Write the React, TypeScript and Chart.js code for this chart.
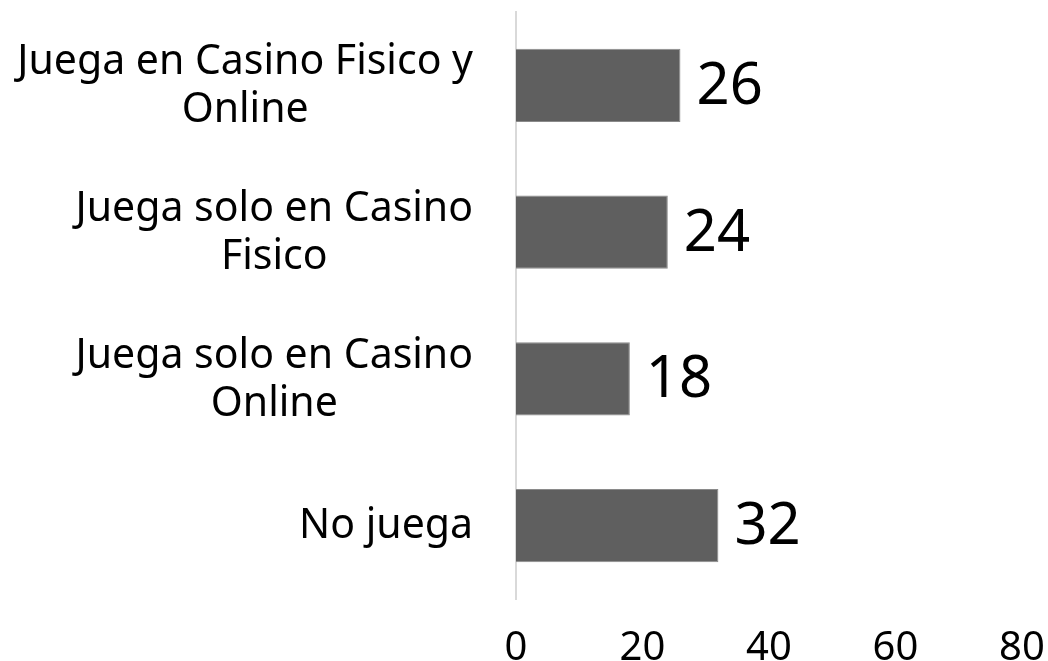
import React, { useEffect, useRef } from "react";
import { Chart, registerables } from "chart.js";

Chart.register(...registerables);

const categories: string[][] = [
  ["Juega en Casino Fisico y", "Online"],
  ["Juega solo en Casino", "Fisico"],
  ["Juega solo en Casino", "Online"],
  ["No juega"],
];
const values: number[] = [26, 24, 18, 32];
const xTicks: number[] = [0, 20, 40, 60, 80];

const FONT = "'Noto Sans', 'Open Sans', sans-serif";

const categoryLabelPlugin = {
  id: "categoryLabels",
  afterDraw(chart: any) {
    const ctx = chart.ctx;
    const yScale = chart.scales.y;
    ctx.save();
    ctx.font = `41px ${FONT}`;
    ctx.fillStyle = "#000000";
    ctx.textAlign = "center";
    ctx.textBaseline = "middle";
    const rightEdge = chart.chartArea.left - 43;
    const lineH = 48;
    categories.forEach((lines, i) => {
      const cy = yScale.getPixelForValue(i);
      const maxW = Math.max(...lines.map((l) => ctx.measureText(l).width));
      const cx = rightEdge - maxW / 2;
      const startY = cy - ((lines.length - 1) * lineH) / 2 + 1;
      lines.forEach((l, j) => ctx.fillText(l, cx, startY + j * lineH));
    });
    ctx.restore();
  },
};

const valueLabelPlugin = {
  id: "valueLabels",
  afterDatasetsDraw(chart: any) {
    const ctx = chart.ctx;
    const meta = chart.getDatasetMeta(0);
    ctx.save();
    ctx.font = `58px ${FONT}`;
    ctx.fillStyle = "#000000";
    ctx.textAlign = "left";
    ctx.textBaseline = "middle";
    meta.data.forEach((el: any, i: number) => {
      ctx.fillText(String(values[i]), el.x + 16, el.y + 2);
    });
    ctx.restore();
  },
};

export default function App() {
  const ref = useRef<HTMLCanvasElement | null>(null);
  useEffect(() => {
    document.body.style.margin = "0";
    if (!ref.current) return;
    const chart = new Chart(ref.current, {
      type: "bar",
      data: {
        labels: categories.map((c) => c.join(" ")),
        datasets: [
          {
            data: values,
            backgroundColor: "#5f5f5f",
            borderColor: "#8a8a8a",
            borderWidth: 1,
            barPercentage: 0.5,
            categoryPercentage: 1,
          },
        ],
      },
      options: {
        indexAxis: "y",
        responsive: false,
        animation: false,
        layout: { padding: { top: 12, right: 26, left: 0, bottom: 0 } },
        plugins: {
          legend: { display: false },
          tooltip: { enabled: false },
        },
        scales: {
          x: {
            min: 0,
            max: 80,
            afterBuildTicks: (scale: any) => {
              scale.ticks = xTicks.map((v) => ({ value: v }));
            },
            afterFit: (scale: any) => {
              scale.height = 62;
              scale.paddingLeft = 0;
              scale.paddingRight = 0;
            },
            grid: { display: false, drawTicks: false },
            border: { display: false },
            ticks: {
              color: "#000000",
              padding: 26,
              font: { family: FONT, size: 40 },
              maxRotation: 0,
            },
          },
          y: {
            afterFit: (scale: any) => {
              scale.width = 516;
            },
            grid: { display: false, drawTicks: false },
            border: { display: true, color: "#d9d9d9", width: 2 },
            ticks: { display: false },
          },
        },
      },
      plugins: [categoryLabelPlugin, valueLabelPlugin],
    });
    return () => chart.destroy();
  }, []);
  return (
    <div style={{ width: 1048, height: 661 }}>
      <canvas ref={ref} width={1048} height={661} />
    </div>
  );
}
